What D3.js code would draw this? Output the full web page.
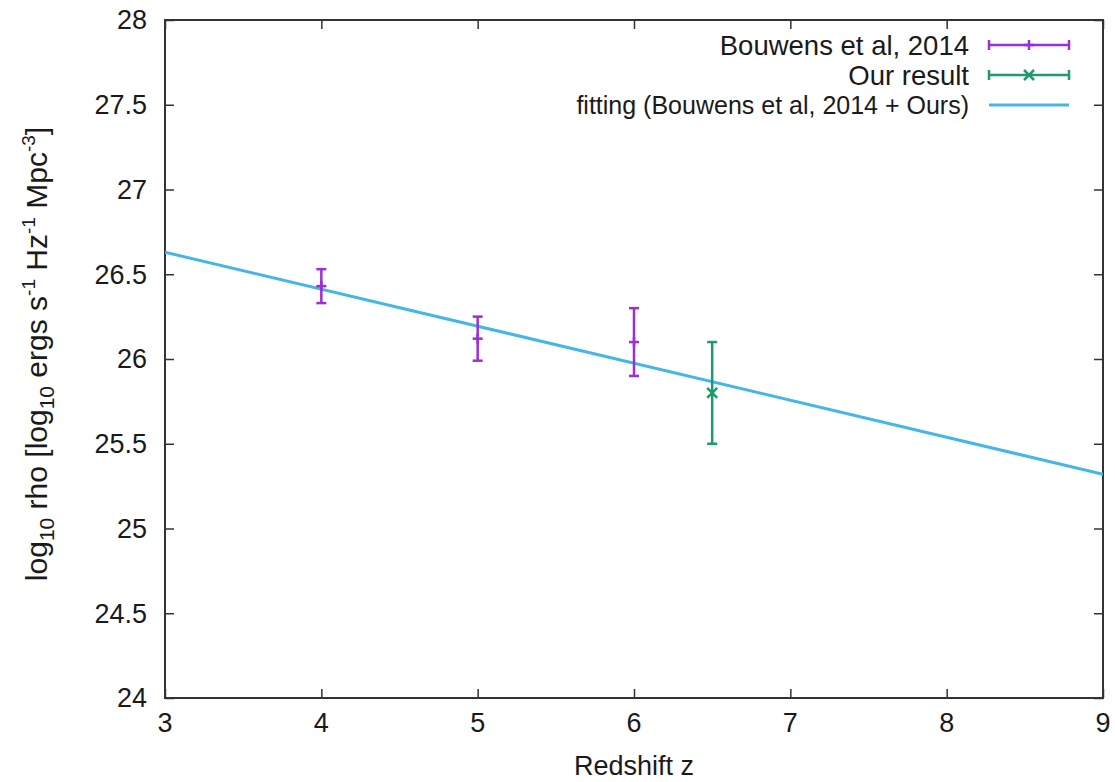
<!DOCTYPE html>
<html>
<head>
<meta charset="utf-8">
<script src="https://cdn.jsdelivr.net/npm/d3@7"></script>
<style>
  body { margin: 0; background: #fff; }
  svg text { font-family: "Liberation Sans", Arial, sans-serif; fill: #1a1a1a; }
</style>
</head>
<body>
<div id="chart"></div>
<script>
// data
const bouwensZ = [4, 5, 6],
      bouwensRho = [26.43, 26.12, 26.10],
      bouwensLow = [26.33, 25.99, 25.90],
      bouwensHigh = [26.53, 26.25, 26.30]

const oursZ = [6.5],
      oursRho = [25.80],
      oursLow = [25.50],
      oursHigh = [26.10]

// fit line end points
const fitZ = [3, 9],
      fitRho = [26.63, 25.32]

const xTicks = [3, 4, 5, 6, 7, 8, 9],
      yTicks = [24, 24.5, 25, 25.5, 26, 26.5, 27, 27.5, 28]

const legendLabels = ['Bouwens et al, 2014', 'Our result', 'fitting (Bouwens et al, 2014 + Ours)']

// canvas
const width = 1115,
      height = 782,
      plotLeft = 165,
      plotRight = 1103,
      plotTop = 20,
      plotBottom = 698,
      purple = '#9a2fd6',
      green = '#1f9a6e',
      blue = '#44b6e8',
      tickFont = 27

let svg = d3.select('#chart')
  .append('svg')
  .attr('width', width)
  .attr('height', height)

let x = d3.scaleLinear().domain([3, 9]).range([plotLeft, plotRight])
let y = d3.scaleLinear().domain([24, 28]).range([plotBottom, plotTop])

// ticks, inward on every side
let xAxisB = d3.axisBottom(x).tickValues(xTicks).tickSize(-9).tickFormat('')
let xAxisT = d3.axisTop(x).tickValues(xTicks).tickSize(-9).tickFormat('')
let yAxisL = d3.axisLeft(y).tickValues(yTicks).tickSize(-9).tickFormat('')
let yAxisR = d3.axisRight(y).tickValues(yTicks).tickSize(-9).tickFormat('')

let axes = [
  [xAxisB, `translate(0,${plotBottom})`],
  [xAxisT, `translate(0,${plotTop})`],
  [yAxisL, `translate(${plotLeft},0)`],
  [yAxisR, `translate(${plotRight},0)`]
]
axes.forEach(([ax, tr]) => {
  let g = svg.append('g').attr('transform', tr).call(ax)
  g.select('.domain').remove()
  g.selectAll('line').attr('stroke', '#333').attr('stroke-width', 1.5)
})

// tick labels
svg.append('g').selectAll('text')
  .data(xTicks)
  .enter()
  .append('text')
  .attr('x', d => x(d))
  .attr('y', plotBottom + 34)
  .attr('text-anchor', 'middle')
  .attr('font-size', tickFont)
  .text(d => d)

svg.append('g').selectAll('text')
  .data(yTicks)
  .enter()
  .append('text')
  .attr('x', plotLeft - 18)
  .attr('y', d => y(d))
  .attr('dy', '0.35em')
  .attr('text-anchor', 'end')
  .attr('font-size', tickFont)
  .text(d => d)

// frame
svg.append('rect')
  .attr('x', plotLeft)
  .attr('y', plotTop)
  .attr('width', plotRight - plotLeft)
  .attr('height', plotBottom - plotTop)
  .attr('fill', 'none')
  .attr('stroke', '#333')
  .attr('stroke-width', 2)

// axis titles
svg.append('text')
  .attr('x', 634)
  .attr('y', 775)
  .attr('text-anchor', 'middle')
  .attr('font-size', 27)
  .text('Redshift z')

let ylab = svg.append('text')
  .attr('transform', `translate(47,354) rotate(-90)`)
  .attr('text-anchor', 'middle')
  .attr('font-size', 30)
ylab.append('tspan').text('log')
ylab.append('tspan').attr('font-size', 21).attr('dy', 7).text('10')
ylab.append('tspan').attr('dy', -7).text(' rho [log')
ylab.append('tspan').attr('font-size', 21).attr('dy', 7).text('10')
ylab.append('tspan').attr('dy', -7).text(' ergs s')
ylab.append('tspan').attr('font-size', 19).attr('dy', -12).text('-1')
ylab.append('tspan').attr('dy', 12).text(' Hz')
ylab.append('tspan').attr('font-size', 19).attr('dy', -12).text('-1')
ylab.append('tspan').attr('dy', 12).text(' Mpc')
ylab.append('tspan').attr('font-size', 19).attr('dy', -12).text('-3')
ylab.append('tspan').attr('dy', 12).text(']')

// fit line
let clip = svg.append('clipPath').attr('id', 'plotclip')
clip.append('rect').attr('x', plotLeft).attr('y', plotTop).attr('width', plotRight - plotLeft).attr('height', plotBottom - plotTop)

let fitLine = d3.line()
  .x(d => x(d[0]))
  .y(d => y(d[1]))

svg.append('path')
  .datum(fitZ.map((z, i) => [z, fitRho[i]]))
  .attr('clip-path', 'url(#plotclip)')
  .attr('d', fitLine)
  .attr('fill', 'none')
  .attr('stroke', blue)
  .attr('stroke-width', 3)

// error bars
let drawBars = (zs, vals, lows, highs, color, marker) => {
  let g = svg.append('g').attr('stroke', color).attr('stroke-width', 2.5)
  zs.forEach((z, i) => {
    let cx = x(z)
    g.append('line').attr('x1', cx).attr('x2', cx).attr('y1', y(lows[i])).attr('y2', y(highs[i]))
    g.append('line').attr('x1', cx - 5).attr('x2', cx + 5).attr('y1', y(lows[i])).attr('y2', y(lows[i]))
    g.append('line').attr('x1', cx - 5).attr('x2', cx + 5).attr('y1', y(highs[i])).attr('y2', y(highs[i]))
    marker(g, cx, y(vals[i]))
  })
}

let plus = (g, cx, cy) => {
  g.append('line').attr('x1', cx - 5).attr('x2', cx + 5).attr('y1', cy).attr('y2', cy)
  g.append('line').attr('x1', cx).attr('x2', cx).attr('y1', cy - 5).attr('y2', cy + 5)
}
let cross = (g, cx, cy) => {
  g.append('line').attr('x1', cx - 5).attr('x2', cx + 5).attr('y1', cy - 5).attr('y2', cy + 5)
  g.append('line').attr('x1', cx - 5).attr('x2', cx + 5).attr('y1', cy + 5).attr('y2', cy - 5)
}

drawBars(bouwensZ, bouwensRho, bouwensLow, bouwensHigh, purple, plus)
drawBars(oursZ, oursRho, oursLow, oursHigh, green, cross)

// legend
let keyX1 = 989, keyX2 = 1069, keyY = [45, 75, 105]
let legendColors = [purple, green, blue]
let legendMarkers = [plus, cross, null]
let legendFont = [27.5, 27.5, 25]

legendLabels.forEach((lab, i) => {
  svg.append('text')
    .attr('x', 969)
    .attr('y', keyY[i])
    .attr('dy', '0.35em')
    .attr('text-anchor', 'end')
    .attr('font-size', legendFont[i])
    .text(lab)
  let g = svg.append('g').attr('stroke', legendColors[i]).attr('stroke-width', i == 2 ? 3 : 2.5)
  g.append('line').attr('x1', keyX1).attr('x2', keyX2).attr('y1', keyY[i]).attr('y2', keyY[i])
  if (legendMarkers[i]) {
    g.append('line').attr('x1', keyX1).attr('x2', keyX1).attr('y1', keyY[i] - 5).attr('y2', keyY[i] + 5)
    g.append('line').attr('x1', keyX2).attr('x2', keyX2).attr('y1', keyY[i] - 5).attr('y2', keyY[i] + 5)
    legendMarkers[i](g, (keyX1 + keyX2) / 2, keyY[i])
  }
})
</script>
</body>
</html>
